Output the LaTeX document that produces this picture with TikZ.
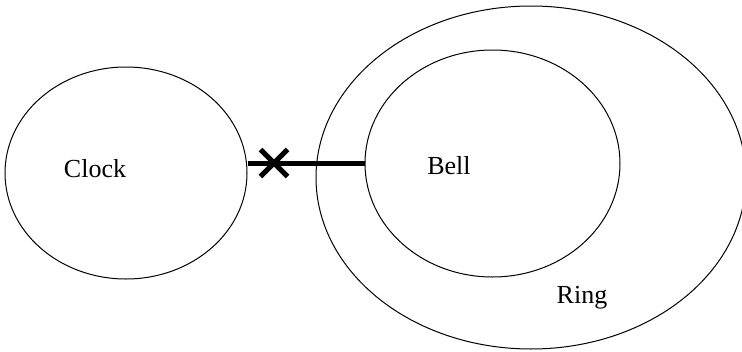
\documentclass[tikz,border=0pt]{standalone}
\usepackage{fontspec}
\setmainfont{Liberation Serif}
\usepackage{tikz}
\usetikzlibrary{shapes.geometric, shapes.misc, positioning}

\begin{document}
\begin{tikzpicture}[
    x=1pt, y=-1pt,
    set/.style={ellipse, draw, line width=1pt, inner sep=0pt},
    lbl/.style={font=\fontsize{26}{30}\selectfont},
    link/.style={line width=4.5pt}
]
\useasboundingbox (0,0) rectangle (742,351);

\node[set, minimum width=242pt, minimum height=212pt] (clock) at (126,173) {};
\node[set, minimum width=430pt, minimum height=343pt] (ring) at (531,177.5) {};
\node[set, minimum width=255pt, minimum height=227pt] (bell) at (492.5,163.5) {};

\node[lbl] (clocktext) at (95,169) {Clock};
\node[lbl] (belltext) at (449,166) {Bell};
\node[lbl] (ringtext) at (582,298) {Ring};

\coordinate (start) at (bell.west -| clock.east);
\draw[link] (start) -- (bell.west);
\node[cross out, draw, line width=5pt, minimum size=22pt, inner sep=0pt] (cut) at (274,163) {};

\end{tikzpicture}
\end{document}
